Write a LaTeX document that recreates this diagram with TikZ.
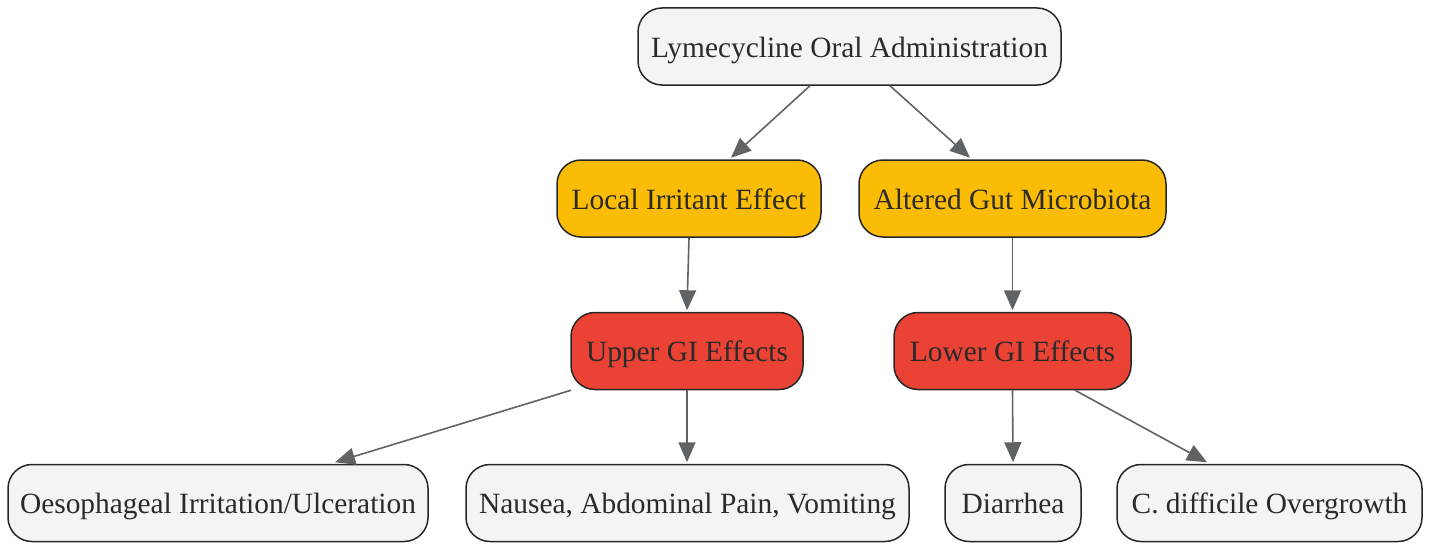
\documentclass[tikz,border=0pt]{standalone}
\usepackage{fontspec}
\setmainfont{Liberation Serif}
\usetikzlibrary{arrows.meta,calc}
\definecolor{boxgray}{HTML}{F3F4F6}
\definecolor{boxyellow}{HTML}{FBBC05}
\definecolor{boxred}{HTML}{EA4335}
\definecolor{edgegray}{HTML}{606366}
\definecolor{txt}{HTML}{2A2A2A}
\tikzset{
  box/.style={draw=black!85, line width=1.5pt, rounded corners=24pt, inner sep=0pt,
    minimum height=77pt, text=txt, font=\fontsize{29.4}{32}\selectfont,
    text height=28.8pt, text depth=7.3pt},
  gbox/.style={box, fill=boxgray},
  ybox/.style={box, fill=boxyellow},
  rbox/.style={box, fill=boxred},
  edge/.style={draw=edgegray, line width=1.6pt, -{Triangle[length=20pt,width=17pt]}}
}
\begin{document}
\begin{tikzpicture}[x=1pt,y=-1pt]
\useasboundingbox (0,0) rectangle (1431,543);
\node[gbox, minimum width=423pt] (top) at (849.5,46.5) {Lymecycline Oral Administration};
\node[ybox, minimum width=264pt] (lie) at (689,198.5) {Local Irritant Effect};
\node[ybox, minimum width=307pt] (agm) at (1012.5,198.5) {Altered Gut Microbiota};
\node[rbox, minimum width=232pt] (ugi) at (687,351) {Upper GI Effects};
\node[rbox, minimum width=237pt] (lgi) at (1012.5,351) {Lower GI Effects};
\node[gbox, minimum width=420pt] (oes) at (218,503) {Oesophageal Irritation/Ulceration};
\node[gbox, minimum width=443pt] (nau) at (687.5,503) {Nausea, Abdominal Pain, Vomiting};
\node[gbox, minimum width=136pt] (dia) at (1013,503) {Diarrhea};
\node[gbox, minimum width=305pt] (cdi) at (1269.5,503) {C. difficile Overgrowth};

\draw[edge] ($(top.south)+(-39.5,0)$) -- ($(lie.north)+(42,-1.5)$);
\draw[edge] ($(top.south)+(40.5,0)$) -- ($(agm.north)+(-42.5,-1.5)$);
\draw[edge] (lie.south) -- ($(ugi.north)+(0,-1.5)$);
\draw[edge] (agm.south) -- ($(lgi.north)+(0,-1.5)$);
\draw[edge] ($(ugi.south)+(-116,0)$) -- ($(oes.north)+(117,-1.5)$);
\draw[edge] (ugi.south) -- ($(nau.north)+(-0.5,-1.5)$);
\draw[edge] (lgi.south) -- ($(dia.north)+(0,-1.5)$);
\draw[edge] ($(lgi.south)+(62.5,0)$) -- ($(cdi.north)+(-62.5,-1.5)$);
\end{tikzpicture}
\end{document}
